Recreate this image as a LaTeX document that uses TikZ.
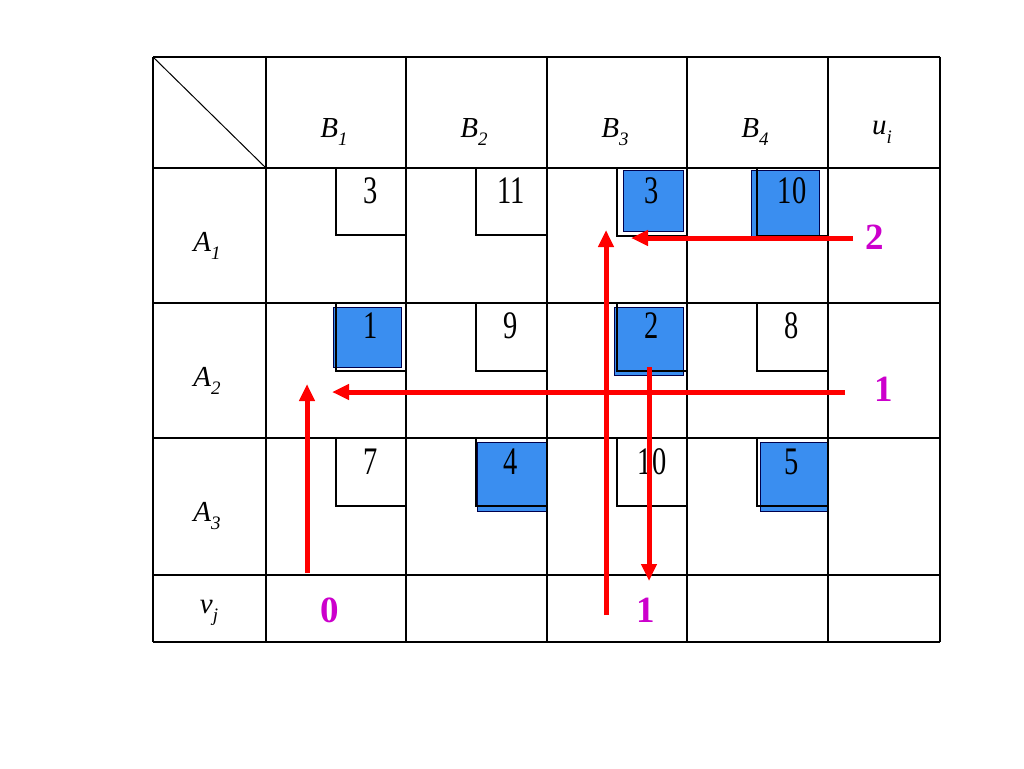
\documentclass[tikz,border=0pt]{standalone}
\usepackage{fontspec}
\setmainfont{Liberation Serif}
\usepackage{graphicx}
\usetikzlibrary{arrows.meta}
\definecolor{boxblue}{RGB}{58,142,240}
\definecolor{potmag}{RGB}{204,0,204}
\newcommand\mycnum[1]{\scalebox{0.73}[1]{#1}}
\newcommand\mysub[1]{\raisebox{-0.3em}{\fontsize{19}{19}\selectfont #1}}
\begin{document}
\begin{tikzpicture}[x=1pt,y=-1pt,
  gridline/.style={line width=1.2pt,black},
  costline/.style={line width=1.2pt,black},
  basebox/.style={fill=boxblue,draw=black!70!blue,line width=0.9pt},
  costnum/.style={font=\fontsize{39}{39}\selectfont, inner sep=0pt},
  head/.style={font=\fontsize{29}{29}\selectfont\itshape, inner sep=0pt},
  pot/.style={font=\fontsize{37}{37}\selectfont\bfseries, text=potmag, inner sep=0pt},
  arr/.style={draw=red, line width=5pt, -{Triangle[length=17pt,width=15pt]}},
]
\fill[white] (0,0) rectangle (1024,768);
\useasboundingbox (0,0) rectangle (1024,768);

% basic (blue) cells
\draw[basebox] (623,170) rectangle (683,231);
\draw[basebox] (751,170) rectangle (819,236);
\draw[basebox] (333,307) rectangle (401,367);
\draw[basebox] (614,307) rectangle (683,375);
\draw[basebox] (477,442) rectangle (546,511);
\draw[basebox] (760,442) rectangle (828,511);

% cost box outlines
\foreach \xl/\yt/\yb in {336/168/235, 476/168/235, 617/168/236, 757/168/236,
                         336/303/371, 476/303/371, 617/303/371, 757/303/371,
                         336/438/506, 476/438/506, 617/438/506, 757/438/506}{
  \draw[costline] (\xl,\yt) -- (\xl,\yb) -- (\xl+70,\yb);
}

% grid
\foreach \x in {153,266,406,547,687,828,940}{
  \draw[gridline] (\x,57) -- (\x,642);
}
\foreach \y in {57,168,303,438,575,642}{
  \draw[gridline] (153,\y) -- (940,\y);
}
\draw[line width=1pt] (153,57) -- (266,168);

% headers
\node[head] (hb1) at (334,132) {B\mysub{1}};
\node[head] (hb2) at (474,132) {B\mysub{2}};
\node[head] (hb3) at (615,132) {B\mysub{3}};
\node[head] (hb4) at (755,132) {B\mysub{4}};
\node[head] (hu)  at (882,132) {u\mysub{i}};
\node[head] (ha1) at (207,246) {A\mysub{1}};
\node[head] (ha2) at (207,381) {A\mysub{2}};
\node[head] (ha3) at (207,516) {A\mysub{3}};
\node[head] (hv)  at (209,613) {v\mysub{j}};

% costs
\node[costnum] (c11) at (371,191) {\mycnum{3}};
\node[costnum] (c12) at (511,191) {\mycnum{11}};
\node[costnum] (c13) at (652,191) {\mycnum{3}};
\node[costnum] (c14) at (792,191) {\mycnum{10}};
\node[costnum] (c21) at (371,326) {\mycnum{1}};
\node[costnum] (c22) at (511,326) {\mycnum{9}};
\node[costnum] (c23) at (652,326) {\mycnum{2}};
\node[costnum] (c24) at (792,326) {\mycnum{8}};
\node[costnum] (c31) at (371,462) {\mycnum{7}};
\node[costnum] (c32) at (511,462) {\mycnum{4}};
\node[costnum] (c33) at (652,462) {\mycnum{10}};
\node[costnum] (c34) at (792,462) {\mycnum{5}};

% potentials
\node[pot] (u1) at (875,237) {2};
\node[pot] (u2) at (884,389) {1};
\node[pot] (v1) at (330,610) {0};
\node[pot] (v3) at (646,610) {1};

% arrow end points
\coordinate (p1s) at (307,573);
\coordinate (p1e) at (307,384);
\coordinate (p2s) at (845,392);
\coordinate (p2e) at (332,392);
\coordinate (p3s) at (606,615);
\coordinate (p3e) at (606,230);
\coordinate (p4s) at (853,238);
\coordinate (p4e) at (631,238);
\coordinate (p5s) at (649,367);
\coordinate (p5e) at (649,581);

\draw[arr] (p1s) -- (p1e);
\draw[arr] (p2s) -- (p2e);
\draw[arr] (p3s) -- (p3e);
\draw[arr] (p4s) -- (p4e);
\draw[arr] (p5s) -- (p5e);
\end{tikzpicture}
\end{document}
